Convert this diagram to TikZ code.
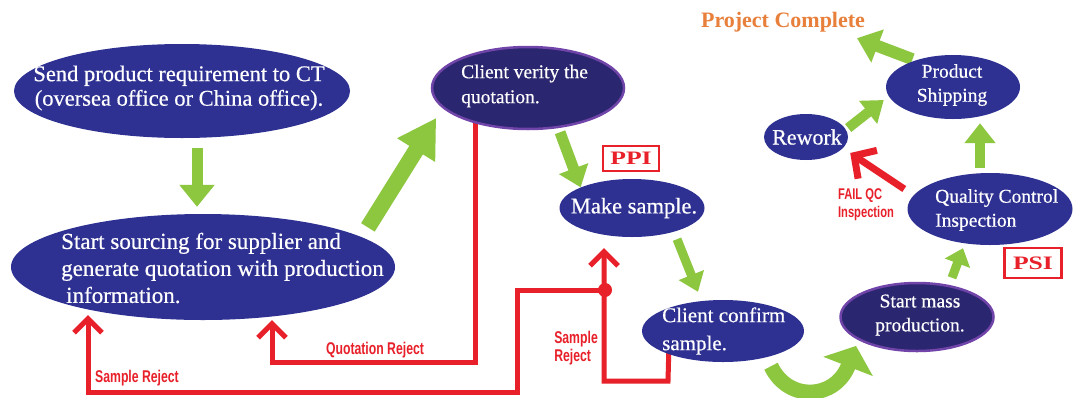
\documentclass[tikz,border=0pt]{standalone}
\usepackage{fontspec}
\setmainfont{Liberation Serif}
\newfontfamily\nodefont{Liberation Serif}[FakeBold=0.5]
\newfontfamily\labfont{Liberation Sans}[FakeStretch=0.72]
\newfontfamily\wideserif{Liberation Serif}[FakeStretch=1.35]
\usetikzlibrary{shapes.geometric,arrows.meta,calc}
\definecolor{navy}{HTML}{2E3192}
\definecolor{deepnavy}{HTML}{2B2670}
\definecolor{violetline}{HTML}{7044A8}
\definecolor{lgreen}{HTML}{8DC63F}
\definecolor{rred}{HTML}{E8202A}
\definecolor{orangetxt}{HTML}{E8803C}
\pgfdeclarelayer{paper}
\pgfdeclarelayer{lines}
\pgfsetlayers{paper,lines,main}
\tikzset{
  blob/.style={ellipse, fill=navy, inner sep=0pt},
  darkblob/.style={ellipse, fill=deepnavy, draw=violetline, line width=2.5pt, inner sep=0pt},
  wtext/.style 2 args={text=white, inner sep=0pt, font=\nodefont\fontsize{#1}{#2}\selectfont},
  garrow/.style args={#1/#2/#3}{draw=lgreen, line width=#1, -{Triangle[width=#2,length=#3]}},
  rline/.style={draw=rred, line width=5pt, line join=miter},
  rarrow/.style={rline, -{Straight Barb[width=28pt,length=14pt]}},
  rlabel/.style={text=rred, inner sep=0pt, font=\labfont\bfseries\fontsize{17}{18}\selectfont, align=left},
  tagbox/.style={draw=rred, line width=2.5pt, inner sep=0pt, text=rred,
     font=\wideserif\bfseries\fontsize{19}{20}\selectfont}
}
\begin{document}
\begin{tikzpicture}[x=1pt,y=-1pt]
\begin{pgfonlayer}{paper}
\fill[white] (0,0) rectangle (1075,397);
\end{pgfonlayer}
\useasboundingbox (0,0) rectangle (1075,397);

% ellipses
\node[blob, minimum width=336pt, minimum height=94pt] (send) at (182,91) {};
\node[wtext={22.5}{24.5}, align=center] (sendtxt) at (179,88) {Send product requirement to CT\\(oversea office or China office).};

\node[blob, minimum width=384pt, minimum height=106pt] (source) at (203,267) {};
\node[wtext={23}{27}, align=left, anchor=west] (sourcetxt) at (61,268) {Start sourcing for supplier and\\generate quotation with production\\\hspace{5pt}information.};

\node[darkblob, minimum width=192pt, minimum height=82pt] (verity) at (528,88) {};
\node[wtext={19.5}{25}, align=left, anchor=west] (veritytxt) at (461,86) {Client verity the\\quotation.};

\node[blob, minimum width=145pt, minimum height=58pt] (make) at (632,208) {};
\node[wtext={22.5}{24}] (maketxt) at (634,208) {Make sample.};
\node[tagbox, minimum width=56pt, minimum height=25pt] (ppi) at (631,158.5) {PPI};

\node[blob, minimum width=162pt, minimum height=62pt] (confirm) at (723,331) {};
\node[wtext={21}{28}, align=left, anchor=west] (confirmtxt) at (662,331) {Client confirm\\sample.};

\node[darkblob, minimum width=153pt, minimum height=68pt] (mass) at (917,317) {};
\node[wtext={19.5}{24}, align=center] (masstxt) at (920,315) {Start mass\\production.};

\node[blob, minimum width=165pt, minimum height=72pt] (qc) at (990,209) {};
\node[wtext={19.5}{24}, align=left, anchor=west] (qctxt) at (935,210) {Quality Control\\Inspection};
\node[tagbox, minimum width=57pt, minimum height=30pt] (psi) at (1033,263) {PSI};

\node[blob, minimum width=84pt, minimum height=46pt] (rework) at (806,137) {};
\node[wtext={22}{24}] (reworktxt) at (807,137) {Rework};

\node[blob, minimum width=134pt, minimum height=64pt] (ship) at (953,87) {};
\node[wtext={19.5}{24}, align=center] (shiptxt) at (952,85) {Product\\Shipping};

\node[text=orangetxt, inner sep=0pt, font=\bfseries\fontsize{22}{24}\selectfont] (done) at (783,22) {Project Complete};

% labels
\node[rlabel] (qrej) at (375,350) {Quotation Reject};
\node[rlabel] (srej1) at (137,378) {Sample Reject};
\node[rlabel, anchor=east] (srej2) at (598,348) {Sample\\Reject};
\node[rlabel, font=\labfont\bfseries\fontsize{15.5}{18}\selectfont] (failqc) at (866,205) {FAIL QC\\Inspection};

% connectors
\begin{pgfonlayer}{lines}
% green flow
\draw[garrow=11pt/34pt/22pt] ($(send.south)+(15,10)$) -- ($(source.north)+(-6,-7)$);
\draw[garrow=16pt/42pt/38pt] ($(source.north east)+(29,-2)$) -- ($(verity.south west)+(-23,0)$);
\draw[garrow=11pt/30pt/20pt] ($(verity.south)+(32,2)$) -- ($(make.north west)+(0,0)$);
\draw[garrow=9pt/26pt/18pt] ($(make.south)+(45,2)$) -- ($(confirm.north)+(-25,-8)$);
\draw[garrow=15pt/52pt/22pt] ($(confirm.south)+(48,4)$) .. controls (788,402) and (835,400) .. ($(mass.south west)+(-6,4)$);
\draw[garrow=9pt/26pt/16pt] ($(mass.north)+(35,-4)$) -- ($(qc.south)+(-27,3)$);
\draw[garrow=10pt/28pt/20pt] ($(rework.east)+(0,-9)$) -- ($(ship.west)+(-2,13)$);
\draw[garrow=10pt/30pt/20pt] ($(qc.north)+(-10,-5)$) -- ($(ship.south)+(27,4)$);
\draw[garrow=12pt/34pt/22pt] ($(ship.north west)+(7,-5)$) -- ($(done.south)+(74,6)$);
% red rejections
\draw[rarrow] ($(verity.south)+(-53,-10)$) -- (475,362) -| ($(source.south)+(69,0)$);
\draw[rarrow] ($(confirm.south)+(-54,-20)$) -- (668,381) -| ($(make.south)+(-28,11)$);
\draw[rarrow] (605,290) -- (517,290) |- (88,392) -- ($(source.south)+(-115,-5)$);
\fill[rred] (605,290) circle (7pt);
\draw[rred, line width=7pt, -{Straight Barb[width=34pt,length=16pt]}] ($(qc.west)+(-3,-20)$) -- ($(rework.east)+(2,16)$);
\end{pgfonlayer}
\end{tikzpicture}
\end{document}
